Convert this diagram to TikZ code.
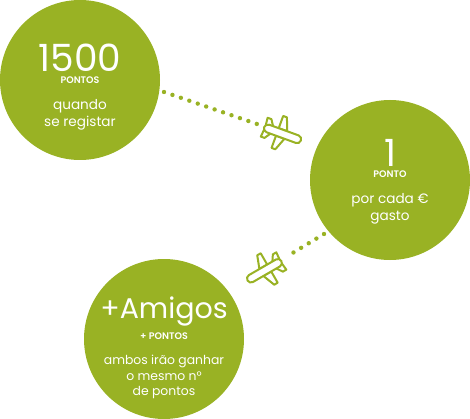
\documentclass[tikz,border=0pt]{standalone}
\usepackage{fontspec}
\setmainfont{Poppins}
\newfontfamily\boldfont{Poppins SemiBold}
\definecolor{olivegreen}{HTML}{99B224}
\tikzset{
    bigcircle/.style={circle,fill=olivegreen,minimum size=160pt,inner sep=0pt},
    bigtext/.style={text=white,inner sep=0pt,font=\fontsize{37.5}{37.5}\selectfont},
    smalltext/.style={text=white,inner sep=0pt,font=\boldfont\fontsize{9.5}{9.5}\selectfont},
    bodytext/.style={text=white,inner sep=0pt,align=center,font=\fontsize{13.6}{17}\selectfont},
    dotline/.style={olivegreen,line width=4.4pt,line cap=round,dash pattern=on 0pt off 8.92pt},
    planeicon/.pic={
        \draw[olivegreen,line width=2pt,line join=round,fill=white]
            (3,-4) -- (-2,-17) -- (-6,-17) -- (-6,-4) -- cycle
            (3,4) -- (-2,17) -- (-6,17) -- (-6,4) -- cycle
            (-12,-4) -- (-16,-10) -- (-20,-10) -- (-19,0) -- (-20,10) -- (-16,10) -- (-12,4) -- cycle;
        \draw[olivegreen,line width=2pt,fill=white,rounded corners=3.9pt]
            (-20,-4) rectangle (19,4);
    }
}
\begin{document}
\begin{tikzpicture}[x=1pt,y=-1pt]
    \useasboundingbox (0,0) rectangle (470,419);

    % The three circles
    \node[bigcircle] (one) at (80,80) {};
    \node[bigcircle] (two) at (390,180) {};
    \node[bigcircle] (three) at (164,339) {};

    % Dotted paths
    \coordinate (onestart) at (164,92);
    \coordinate (oneend) at (257,124);
    \coordinate (twostart) at (324,234);
    \coordinate (twoend) at (286,257);
    \draw[dotline] (onestart) -- (oneend);
    \draw[dotline] (twostart) -- (twoend);

    % Planes
    \pic[rotate=-20] at (283,134) {planeicon};
    \pic[rotate=210] at (264,271) {planeicon};

    % Texts of the first circle
    \node[bigtext] (onebig) at (80,58) {1500};
    \node[smalltext] (onesmall) at (80,80) {PONTOS};
    \node[bodytext] (onebody) at (80,115) {quando\\se registar};

    % Texts of the second circle
    \node[bigtext] (twobig) at (390,153) {1};
    \node[smalltext] (twosmall) at (390,174) {PONTO};
    \node[bodytext] (twobody) at (390,209) {por cada €\\gasto};

    % Texts of the third circle
    \node[bigtext,font=\fontsize{28.5}{28.5}\selectfont] (threebig) at (164,312) {+Amigos};
    \node[smalltext] (threesmall) at (164,336) {+ PONTOS};
    \node[bodytext,font=\fontsize{12.4}{15.3}\selectfont] (threebody) at (164,377) {ambos irão ganhar\\o mesmo n°\\de pontos};
\end{tikzpicture}
\end{document}
